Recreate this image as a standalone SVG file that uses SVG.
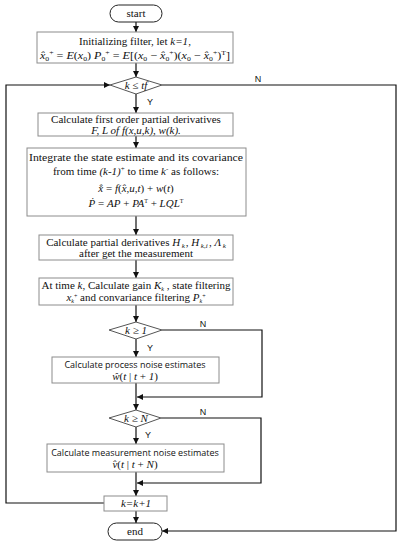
<svg xmlns="http://www.w3.org/2000/svg" width="400" height="550" viewBox="0 0 400 550">
<style>
.box{fill:#fff;stroke:#8c8c8c;stroke-width:1}
.term{fill:#fff;stroke:#222;stroke-width:1}
.ln{fill:none;stroke:#111;stroke-width:1.2}
.t{font-family:"Liberation Serif","Times New Roman",serif;font-size:11px;fill:#111;text-anchor:middle}
.s{font-family:"Open Sans","Liberation Sans",sans-serif;font-size:9px;fill:#111;text-anchor:middle}
.lab{font-family:"Liberation Sans",Arial,sans-serif;font-size:9px;fill:#111;text-anchor:middle}
.i{font-style:italic}
</style>
<defs>
<marker id="ah" viewBox="0 0 10 10" refX="10" refY="5" markerWidth="6" markerHeight="6" orient="auto" markerUnits="userSpaceOnUse">
<path d="M0,0 L10,5 L0,10 z" fill="#111"/>
</marker>
</defs>

<g id="connectors">
<path class="ln" d="M136,22 V32" marker-end="url(#ah)"/>
<path class="ln" d="M136,63 V77" marker-end="url(#ah)"/>
<path class="ln" d="M136,94 V113" marker-end="url(#ah)"/>
<path class="ln" d="M136,136 V148" marker-end="url(#ah)"/>
<path class="ln" d="M136,216 V235" marker-end="url(#ah)"/>
<path class="ln" d="M136,260 V278" marker-end="url(#ah)"/>
<path class="ln" d="M136,305 V322" marker-end="url(#ah)"/>
<path class="ln" d="M136,339 V357" marker-end="url(#ah)"/>
<path class="ln" d="M136,383 V410" marker-end="url(#ah)"/>
<path class="ln" d="M162,330 H262 V397 H137" marker-end="url(#ah)"/>
<path class="ln" d="M136,427 V444" marker-end="url(#ah)"/>
<path class="ln" d="M136,472 V496" marker-end="url(#ah)"/>
<path class="ln" d="M161,418 H261 V483 H137" marker-end="url(#ah)"/>
<path class="ln" d="M136,511 V523" marker-end="url(#ah)"/>
<path class="ln" d="M104,503 H6 V85 H110" marker-end="url(#ah)"/>
<path class="ln" d="M162,85 H396 V531 H162" marker-end="url(#ah)"/>
<text class="lab" x="258" y="82">N</text>
<text class="lab" x="150" y="105">Y</text>
<text class="lab" x="203" y="327">N</text>
<text class="lab" x="150" y="351">Y</text>
<text class="lab" x="203" y="415">N</text>
<text class="lab" x="148" y="438">Y</text>
</g>

<g id="start">
<rect class="term" x="110" y="5" width="52" height="17" rx="8.5"/>
<text class="t" x="136" y="17">start</text>
</g>

<g id="init">
<rect class="box" x="37" y="32" width="196" height="31"/>
<text class="t" x="135" y="45">Initializing filter, let <tspan class="i">k=1</tspan>,</text>
<text class="t" x="135" y="59" textLength="190" lengthAdjust="spacingAndGlyphs"><tspan class="i">x̂</tspan><tspan font-size="7" dy="2">0</tspan><tspan font-size="7" dy="-6">+</tspan><tspan dy="4"> = </tspan><tspan class="i">E</tspan>(<tspan class="i">x</tspan><tspan font-size="7" dy="2">0</tspan><tspan dy="-2">)   </tspan><tspan class="i">P</tspan><tspan font-size="7" dy="2">0</tspan><tspan font-size="7" dy="-6">+</tspan><tspan dy="4"> = </tspan><tspan class="i">E</tspan>[(<tspan class="i">x</tspan><tspan font-size="7" dy="2">0</tspan><tspan dy="-2"> − </tspan><tspan class="i">x̂</tspan><tspan font-size="7" dy="2">0</tspan><tspan font-size="7" dy="-6">+</tspan><tspan dy="4">)(</tspan><tspan class="i">x</tspan><tspan font-size="7" dy="2">0</tspan><tspan dy="-2"> − </tspan><tspan class="i">x̂</tspan><tspan font-size="7" dy="2">0</tspan><tspan font-size="7" dy="-6">+</tspan><tspan dy="4">)</tspan><tspan font-size="7" dy="-4">T</tspan><tspan dy="4">]</tspan></text>
</g>

<g id="cond1">
<polygon class="box" points="110,85 136,77 162,85 136,94" style="stroke:#555"/>
<text class="t" x="136" y="89"><tspan class="i">k</tspan> ≤ <tspan class="i">tf</tspan></text>
</g>

<g id="derivs">
<rect class="box" x="38" y="113" width="195" height="23"/>
<text class="t" x="136" y="123">Calculate first order partial derivatives</text>
<text class="t" x="136" y="134"><tspan class="i">F, L of f(x,u,k), w(k).</tspan></text>
</g>

<g id="integrate">
<rect class="box" x="27" y="148" width="219" height="68"/>
<text class="t" x="136" y="161" textLength="214" lengthAdjust="spacingAndGlyphs">Integrate the state estimate and its covariance</text>
<text class="t" x="136" y="175">from time <tspan class="i">(k-1)</tspan><tspan font-size="7" dy="-4">+</tspan><tspan dy="4"> to time </tspan><tspan class="i">k</tspan><tspan font-size="7" dy="-4">-</tspan><tspan dy="4"> as follows:</tspan></text>
<text class="t" x="136" y="192"><tspan class="i">x̂̇</tspan> = <tspan class="i">f</tspan>(<tspan class="i">x̂</tspan>,<tspan class="i">u</tspan>,<tspan class="i">t</tspan>) + <tspan class="i">w</tspan>(<tspan class="i">t</tspan>)</text>
<text class="t" x="136" y="207" font-size="10"><tspan class="i">Ṗ</tspan> = <tspan class="i">AP</tspan> + <tspan class="i">PA</tspan><tspan font-size="6" dy="-4">T</tspan><tspan dy="4"> + </tspan><tspan class="i">LQL</tspan><tspan font-size="6" dy="-4">T</tspan></text>
</g>

<g id="partial">
<rect class="box" x="39" y="235" width="194" height="25"/>
<text class="t" x="136" y="246">Calculate partial derivatives <tspan class="i">H</tspan><tspan font-size="7" dx="1.5" dy="2" class="i">k</tspan><tspan dx="1" dy="-2">, </tspan><tspan class="i">H</tspan><tspan font-size="7" dx="1.5" dy="2" class="i">k,i</tspan><tspan dx="1.5" dy="-2">, </tspan><tspan class="i">Λ</tspan><tspan font-size="7" dx="1.5" dy="2" class="i">k</tspan></text>
<text class="t" x="136" y="257">after get the measurement</text>
</g>

<g id="gain">
<rect class="box" x="39" y="278" width="194" height="27"/>
<text class="t" x="136" y="289" font-size="9.5">At time <tspan class="i">k</tspan>, Calculate gain <tspan class="i">K</tspan><tspan font-size="6" dy="2" class="i">k</tspan><tspan dy="-2"> , state filtering</tspan></text>
<text class="t" x="136" y="301" font-size="9.5"><tspan class="i">x</tspan><tspan font-size="6" dy="2" class="i">k</tspan><tspan font-size="6" dy="-5">+</tspan><tspan dy="3"> and convariance filtering </tspan><tspan class="i">P</tspan><tspan font-size="6" dy="2" class="i">k</tspan><tspan font-size="6" dy="-5">+</tspan></text>
</g>

<g id="cond2">
<polygon class="box" points="109,330 136,322 162,330 136,339" style="stroke:#555"/>
<text class="t" x="136" y="334"><tspan class="i">k</tspan> ≥ <tspan class="i">1</tspan></text>
</g>

<g id="process">
<rect class="box" x="52" y="357" width="167" height="26"/>
<text class="s" x="135" y="368">Calculate process noise estimates</text>
<text class="t" x="135" y="380"><tspan class="i">ŵ</tspan>(<tspan class="i">t</tspan> | <tspan class="i">t</tspan> + <tspan class="i">1</tspan>)</text>
</g>

<g id="cond3">
<polygon class="box" points="109,418 136,410 161,418 136,427" style="stroke:#555"/>
<text class="t" x="136" y="422"><tspan class="i">k</tspan> ≥ <tspan class="i">N</tspan></text>
</g>

<g id="measure">
<rect class="box" x="47" y="444" width="177" height="28"/>
<text class="s" x="135" y="456">Calculate measurement noise estimates</text>
<text class="t" x="135" y="468"><tspan class="i">v̂</tspan>(<tspan class="i">t</tspan> | <tspan class="i">t</tspan> + <tspan class="i">N</tspan>)</text>
</g>

<g id="increment">
<rect class="box" x="104" y="496" width="63" height="15"/>
<text class="t" x="136" y="507" font-size="9.5"><tspan class="i">k=k+1</tspan></text>
</g>

<g id="end">
<rect class="term" x="108" y="523" width="54" height="17" rx="8.5"/>
<text class="t" x="135" y="535">end</text>
</g>
</svg>
